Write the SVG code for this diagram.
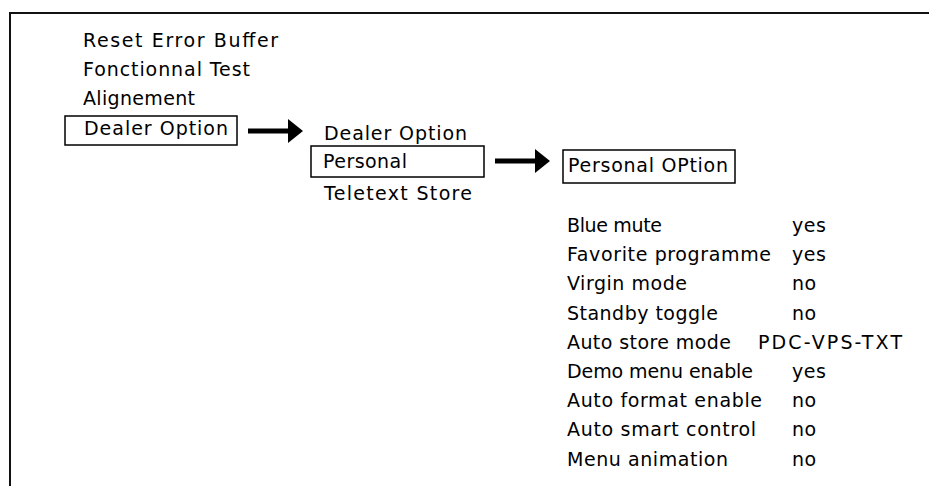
<svg xmlns="http://www.w3.org/2000/svg" width="929" height="486" viewBox="0 0 929 486">
<defs>
<style>
.t{font-family:"DejaVu Sans","Liberation Sans",sans-serif;font-size:19px;fill:#000}
.box{fill:none;stroke:#000;stroke-width:1.5}
.frame{fill:none;stroke:#111;stroke-width:2}
.conn{stroke:#000;stroke-width:5;fill:none}
</style>
<marker id="ah" markerUnits="userSpaceOnUse" markerWidth="16" markerHeight="24" refX="0" refY="12" orient="auto" viewBox="0 0 16 24">
<path d="M0,0 L15,12 L0,24 Z" fill="#000"/>
</marker>
</defs>
<rect width="929" height="486" fill="#fff"/>
<polyline class="frame" points="10,486 10,13 929,13"/>

<g id="main-menu">
<text class="t" x="83" y="47" textLength="195">Reset Error Buffer</text>
<text class="t" x="83" y="76" textLength="167">Fonctionnal Test</text>
<text class="t" x="83" y="105" textLength="112">Alignement</text>
</g>
<g id="dealer-option">
<rect class="box" x="65" y="116" width="172" height="29"/>
<text class="t" x="84" y="135" textLength="144">Dealer Option</text>
</g>

<g id="dealer-menu">
<text class="t" x="324" y="140" textLength="143">Dealer Option</text>
<text class="t" x="324" y="200" textLength="148">Teletext Store</text>
</g>
<g id="personal">
<rect class="box" x="311" y="146" width="173" height="31"/>
<text class="t" x="323" y="168" textLength="84">Personal</text>
</g>

<g id="personal-option">
<rect class="box" x="563" y="150" width="172" height="33"/>
<text class="t" x="568" y="172" textLength="160">Personal OPtion</text>
</g>

<g id="settings">
<text class="t" x="567" y="232" textLength="95">Blue mute</text>
<text class="t" x="792" y="232" textLength="34">yes</text>
<text class="t" x="567" y="261" textLength="204">Favorite programme</text>
<text class="t" x="792" y="261" textLength="34">yes</text>
<text class="t" x="567" y="290" textLength="120">Virgin mode</text>
<text class="t" x="792" y="290" textLength="24">no</text>
<text class="t" x="567" y="320" textLength="151">Standby toggle</text>
<text class="t" x="792" y="320" textLength="24">no</text>
<text class="t" x="567" y="349" textLength="164">Auto store mode</text>
<text class="t" x="758" y="349" textLength="144">PDC-VPS-TXT</text>
<text class="t" x="567" y="378" textLength="186">Demo menu enable</text>
<text class="t" x="792" y="378" textLength="34">yes</text>
<text class="t" x="567" y="407" textLength="195">Auto format enable</text>
<text class="t" x="792" y="407" textLength="24">no</text>
<text class="t" x="567" y="436" textLength="189">Auto smart control</text>
<text class="t" x="792" y="436" textLength="24">no</text>
<text class="t" x="567" y="466" textLength="161">Menu animation</text>
<text class="t" x="792" y="466" textLength="24">no</text>
</g>

<g id="connectors">
<line class="conn" x1="248" y1="131" x2="288" y2="131" marker-end="url(#ah)"/>
<line class="conn" x1="495" y1="161" x2="535" y2="161" marker-end="url(#ah)"/>
</g>
</svg>
